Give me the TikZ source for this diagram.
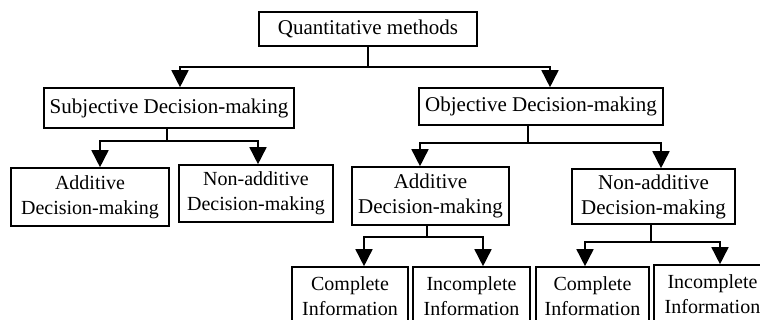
\documentclass[tikz,border=0pt]{standalone}
\usepackage{fontspec}
\setmainfont{Liberation Serif}
\usetikzlibrary{arrows.meta}
\tikzset{
  box/.style={draw, line width=1.6pt, rectangle, inner sep=0pt, align=center,
    font=\fontsize{21pt}{25pt}\selectfont},
  smallbox/.style={box, font=\fontsize{20pt}{25pt}\selectfont},
  arr/.style={line width=1.6pt, -{Triangle[width=17pt,length=17pt]}}
}
\begin{document}
\begin{tikzpicture}[x=1pt,y=1pt]
\useasboundingbox (0,0) rectangle (760,-320);
\clip (0,0) rectangle (760,-320);
\node[box, minimum width=218pt, minimum height=34pt] (Q) at (368,-29) {Quantitative methods};
\node[box, minimum width=250pt, minimum height=40pt] (S) at (169,-108) {Subjective Decision-making};
\node[box, minimum width=244pt, minimum height=37pt] (O) at (541,-106.5) {Objective Decision-making};
\node[smallbox, minimum width=158pt, minimum height=58pt] (AL) at (90,-197) {Additive\\Decision-making};
\node[smallbox, minimum width=154pt, minimum height=57pt] (NL) at (256,-193.5) {Non-additive\\Decision-making};
\node[box, minimum width=157pt, minimum height=58pt] (AR) at (430.5,-196) {Additive\\Decision-making};
\node[box, minimum width=163pt, minimum height=55pt] (NR) at (653.5,-196.5) {Non-additive\\Decision-making};
\node[smallbox, minimum width=116pt, minimum height=58pt] (C1) at (350,-296) {Complete\\Information};
\node[smallbox, minimum width=117pt, minimum height=58pt] (I1) at (471.5,-296) {Incomplete\\Information};
\node[smallbox, minimum width=113pt, minimum height=58pt] (C2) at (592.5,-296) {Complete\\Information};
\node[smallbox, minimum width=117pt, minimum height=58pt] (I2) at (712.5,-294) {Incomplete\\Information};

\draw[arr] (Q.south) -- ++(0,-20) -| ([xshift=11pt]S.north);
\draw[arr] (Q.south) -- ++(0,-20) -| ([xshift=9pt]O.north);
\draw[arr] ([xshift=-2pt]S.south) -- ++(0,-12) -| ([xshift=10pt]AL.north);
\draw[arr] ([xshift=-2pt]S.south) -- ++(0,-12) -| ([xshift=2pt]NL.north);
\draw[arr] ([xshift=-13pt]O.south) -- ++(0,-17) -| ([xshift=-10.5pt]AR.north);
\draw[arr] ([xshift=-13pt]O.south) -- ++(0,-17) -| ([xshift=7.5pt]NR.north);
\draw[arr] ([xshift=-3.5pt]AR.south) -- ++(0,-11) -| ([xshift=14pt]C1.north);
\draw[arr] ([xshift=-3.5pt]AR.south) -- ++(0,-11) -| ([xshift=11.5pt]I1.north);
\draw[arr] ([xshift=-2.5pt]NR.south) -- ++(0,-17) -| ([xshift=-7.5pt]C2.north);
\draw[arr] ([xshift=-2.5pt]NR.south) -- ++(0,-17) -| ([xshift=7.5pt]I2.north);
\end{tikzpicture}
\end{document}
